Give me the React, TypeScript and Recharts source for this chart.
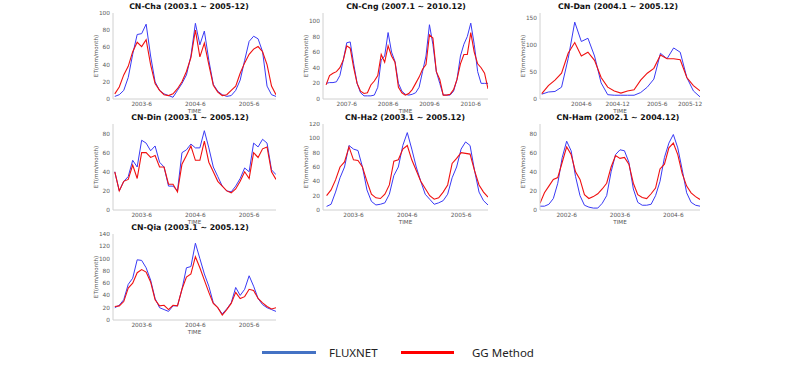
import React from 'react';
import { LineChart, Line, XAxis, YAxis } from 'recharts';

// monthly ET (mm/month), FLUXNET vs GG Method
const chaFlux = [3, 5, 10, 25, 52, 75, 76, 87, 50, 20, 10, 6, 4, 2, 10, 18, 28, 50, 88, 63, 79, 45, 17, 9, 5, 3, 4, 10, 22, 45, 67, 73, 70, 55, 15, 5, 3];
const chaGG = [6, 14, 28, 38, 55, 66, 61, 69, 40, 18, 10, 5, 4, 6, 12, 20, 32, 48, 80, 49, 65, 40, 16, 8, 4, 5, 10, 15, 30, 42, 52, 58, 61, 55, 40, 15, 5];

const cngFlux = [20, 21, 21, 22, 30, 50, 72, 73, 45, 20, 8, 4, 4, 4, 5, 15, 50, 55, 85, 60, 48, 20, 10, 6, 5, 6, 8, 15, 35, 55, 95, 70, 35, 20, 5, 5, 5, 10, 25, 55, 70, 80, 97, 70, 35, 20, 20, 20];
const cngGG = [18, 30, 33, 35, 40, 50, 68, 65, 40, 20, 10, 7, 8, 18, 23, 30, 57, 47, 68, 55, 47, 15, 8, 5, 7, 12, 20, 28, 38, 44, 82, 78, 35, 25, 5, 5, 6, 12, 25, 45, 57, 57, 85, 60, 45, 40, 33, 13];

const danFlux = [9, 13, 14, 22, 75, 143, 107, 113, 80, 30, 8, 7, 7, 7, 7, 12, 22, 37, 85, 75, 95, 87, 40, 15, 4];
const danGG = [10, 25, 35, 48, 85, 105, 80, 87, 72, 40, 22, 15, 11, 15, 17, 35, 48, 57, 82, 75, 75, 73, 40, 25, 15];

const dinFlux = [40, 20, 30, 35, 52, 45, 73, 70, 62, 67, 50, 45, 25, 25, 20, 60, 63, 69, 65, 65, 83, 65, 45, 35, 25, 20, 19, 25, 33, 44, 40, 70, 66, 74, 70, 42, 37];
const dinGG = [40, 20, 30, 32, 47, 33, 60, 60, 55, 57, 45, 45, 27, 27, 19, 48, 57, 67, 52, 52, 72, 50, 40, 30, 25, 20, 18, 22, 30, 40, 33, 60, 55, 64, 66, 40, 32];

const ha2Flux = [5, 8, 25, 45, 60, 90, 85, 83, 60, 28, 12, 7, 8, 10, 22, 48, 60, 90, 108, 85, 60, 40, 22, 15, 8, 10, 13, 22, 45, 60, 85, 95, 90, 55, 25, 13, 7];
const ha2GG = [20, 28, 42, 60, 67, 88, 70, 69, 60, 40, 22, 17, 16, 22, 35, 68, 70, 85, 90, 70, 55, 40, 30, 20, 15, 17, 25, 35, 65, 72, 80, 79, 78, 55, 35, 25, 18];

const hamFlux = [4, 4, 6, 12, 28, 55, 72, 62, 35, 15, 5, 3, 2, 2, 7, 15, 40, 58, 63, 62, 50, 22, 8, 5, 5, 6, 15, 30, 55, 70, 79, 65, 42, 18, 8, 5, 4];
const hamGG = [7, 18, 25, 32, 34, 50, 66, 58, 40, 32, 16, 12, 14, 17, 22, 28, 45, 57, 54, 55, 48, 28, 16, 13, 12, 17, 23, 43, 48, 65, 70, 58, 38, 25, 18, 14, 11];

const qiaFlux = [20, 24, 33, 58, 68, 98, 97, 85, 65, 35, 20, 17, 14, 23, 23, 50, 85, 87, 125, 100, 75, 55, 28, 20, 10, 18, 28, 53, 40, 50, 72, 55, 35, 25, 20, 17, 14];
const qiaGG = [22, 23, 30, 52, 60, 77, 82, 78, 62, 33, 23, 24, 17, 24, 23, 50, 70, 75, 103, 85, 65, 45, 27, 20, 8, 17, 27, 45, 35, 38, 50, 48, 35, 28, 22, 18, 20];

const ticks0305 = ['2003-6', '2004-6', '2005-6'];
const ticksCng = ['2007-6', '2008-6', '2009-6', '2010-6'];
const ticksDan = ['2004-6', '2004-12', '2005-6', '2005-12'];
const ticksHam = ['2002-6', '2003-6', '2004-6'];

const BLUE = '#3a3af5';
const RED = '#f01010';
const FRAME = '#d0d0d0';
const PH = 86;
const RM = 16; // room on the right for the last tick label

type Cfg = {
  title: string; flux: number[]; gg: number[]; ticks: string[]; tickIdx: number[];
  xDomain: [number, number]; yMax: number; yTicks: number[];
  left: number; top: number; width: number; titleX: number;
};

const panels: Cfg[] = [
  { title: 'CN-Cha (2003.1 ~ 2005-12)', flux: chaFlux, gg: chaGG, ticks: ticks0305, tickIdx: [6, 18, 30], xDomain: [-0.4, 36], yMax: 100, yTicks: [0, 20, 40, 60, 80, 100], left: 113, top: 13, width: 163, titleX: 189 },
  { title: 'CN-Cng (2007.1 ~ 2010.12)', flux: cngFlux, gg: cngGG, ticks: ticksCng, tickIdx: [6, 18, 30, 42], xDomain: [-0.9, 47], yMax: 110, yTicks: [0, 20, 40, 60, 80, 100], left: 323, top: 13, width: 165, titleX: 406 },
  { title: 'CN-Dan (2004.1 ~ 2005.12)', flux: danFlux, gg: danGG, ticks: ticksDan, tickIdx: [6, 11.5, 17.5, 22.5], xDomain: [-0.27, 24], yMax: 160, yTicks: [0, 50, 100, 150], left: 540, top: 13, width: 160, titleX: 618 },
  { title: 'CN-Din (2003.1 ~ 2005.12)', flux: dinFlux, gg: dinGG, ticks: ticks0305, tickIdx: [6, 18, 30], xDomain: [-0.4, 36], yMax: 90, yTicks: [0, 20, 40, 60, 80], left: 113, top: 124, width: 163, titleX: 190 },
  { title: 'CN-Ha2 (2003.1 ~ 2005.12)', flux: ha2Flux, gg: ha2GG, ticks: ticks0305, tickIdx: [6, 18, 30], xDomain: [-0.8, 36], yMax: 120, yTicks: [0, 20, 40, 60, 80, 100, 120], left: 323, top: 124, width: 165, titleX: 405 },
  { title: 'CN-Ham (2002.1 ~ 2004.12)', flux: hamFlux, gg: hamGG, ticks: ticksHam, tickIdx: [6, 18, 30], xDomain: [0, 36], yMax: 90, yTicks: [0, 20, 40, 60, 80], left: 540, top: 124, width: 160, titleX: 618 },
  { title: 'CN-Qia (2003.1 ~ 2005.12)', flux: qiaFlux, gg: qiaGG, ticks: ticks0305, tickIdx: [6, 18, 30], xDomain: [-0.4, 36], yMax: 140, yTicks: [0, 20, 40, 60, 80, 100, 120, 140], left: 113, top: 234, width: 163, titleX: 190 },
];

const tickStyle = { fontSize: 5.8, fill: '#5a5a5a', fontFamily: 'DejaVu Sans' };

function Panel({ p }: { p: Cfg }) {
  const data = p.flux.map((v, i) => ({ i, flux: v, gg: p.gg[i] }));
  return (
    <>
      <div style={{ position: 'absolute', left: p.titleX - 90, width: 180, top: p.top - 11, textAlign: 'center', fontFamily: 'DejaVu Sans', fontWeight: 'bold', fontSize: 7.8, lineHeight: '9px', color: '#111', whiteSpace: 'nowrap' }}>
        {p.title}
      </div>
      <div style={{ position: 'absolute', left: p.left - 30, top: p.top - 2 }}>
        <LineChart width={p.width + 30 + RM} height={PH + 16} data={data} margin={{ top: 2, right: RM, bottom: 0, left: 0 }}>
          <XAxis dataKey="i" type="number" domain={p.xDomain} ticks={p.tickIdx} interval={0} allowDataOverflow
            tickFormatter={(v: number) => p.ticks[p.tickIdx.indexOf(v)] ?? ''}
            height={14} tickLine={false} tickSize={1} tickMargin={2} axisLine={{ stroke: FRAME }} tick={tickStyle} />
          <XAxis xAxisId="top" orientation="top" height={0} tick={false} tickLine={false} axisLine={{ stroke: FRAME }} />
          <YAxis domain={[0, p.yMax]} ticks={p.yTicks} interval={0} allowDataOverflow width={30}
            tickLine={false} tickSize={1} tickMargin={2} axisLine={{ stroke: FRAME }} tick={tickStyle} />
          <YAxis yAxisId="right" orientation="right" width={0} tick={false} tickLine={false} axisLine={{ stroke: FRAME }} />
          <Line type="linear" dataKey="flux" stroke={BLUE} strokeWidth={1} dot={false} isAnimationActive={false} />
          <Line type="linear" dataKey="gg" stroke={RED} strokeWidth={1.1} dot={false} isAnimationActive={false} />
        </LineChart>
      </div>
      <div style={{ position: 'absolute', left: p.left - 17, top: p.top + PH / 2, transform: 'translate(-50%, -50%) rotate(-90deg)', fontFamily: 'DejaVu Sans', fontSize: 5.6, color: '#555', whiteSpace: 'nowrap' }}>
        ET(mm/month)
      </div>
      <div style={{ position: 'absolute', left: p.left + p.width / 2, top: p.top + PH + 11.5, transform: 'translate(-50%, -50%)', fontFamily: 'DejaVu Sans', fontSize: 5.6, color: '#555' }}>
        TIME
      </div>
    </>
  );
}

export default function App() {
  return (
    <div style={{ position: 'absolute', left: 0, top: 0, width: 800, height: 366, background: '#fff', overflow: 'hidden' }}>
      {panels.map((p) => <Panel key={p.title} p={p} />)}
      <div style={{ position: 'absolute', left: 262, top: 351, width: 54, height: 3, background: '#4472C4' }} />
      <div style={{ position: 'absolute', left: 329, top: 344, fontFamily: 'Noto Sans', fontSize: 11.5, lineHeight: '17px', color: '#222' }}>FLUXNET</div>
      <div style={{ position: 'absolute', left: 401, top: 351, width: 53, height: 3, background: '#FF0000' }} />
      <div style={{ position: 'absolute', left: 472, top: 344, fontFamily: 'Noto Sans', fontSize: 11.5, lineHeight: '17px', color: '#222' }}>GG Method</div>
    </div>
  );
}
